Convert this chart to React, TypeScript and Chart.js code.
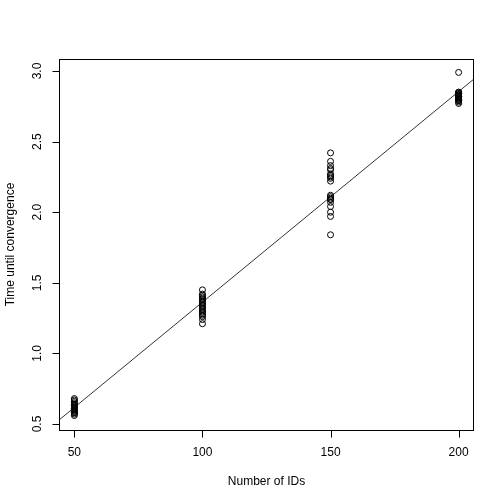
import { useEffect, useRef } from "react";
import { Chart, registerables } from "chart.js";

Chart.register(...registerables);

const groupIds = [50, 100, 150, 200];
const times50 = [0.56, 0.57, 0.58, 0.58, 0.59, 0.59, 0.60, 0.60, 0.61, 0.61, 0.62, 0.62, 0.63, 0.63, 0.64, 0.64, 0.65, 0.66, 0.67, 0.68];
const times100 = [1.21, 1.24, 1.26, 1.27, 1.28, 1.29, 1.30, 1.31, 1.32, 1.33, 1.34, 1.35, 1.36, 1.37, 1.38, 1.39, 1.40, 1.41, 1.42, 1.45];
const times150 = [2.42, 2.36, 2.33, 2.31, 2.30, 2.27, 2.26, 2.25, 2.24, 2.22, 2.12, 2.11, 2.10, 2.09, 2.09, 2.07, 2.04, 2.00, 1.97, 1.84];
const times200 = [2.99, 2.77, 2.78, 2.79, 2.79, 2.80, 2.80, 2.80, 2.81, 2.81, 2.82, 2.82, 2.82, 2.83, 2.83, 2.83, 2.84, 2.84, 2.85, 2.85];

const xTicks = [50, 100, 150, 200];
const yTicks = [0.5, 1.0, 1.5, 2.0, 2.5, 3.0];
const yTickLabels = ["0.5", "1.0", "1.5", "2.0", "2.5", "3.0"];
const xTitle = "Number of IDs";
const yTitle = "Time until convergence";

const X_MIN = 44;
const X_MAX = 206;
const Y_MIN = 0.4575;
const Y_MAX = 3.085;

const FONT = '12px "Liberation Sans", Arial, Helvetica, sans-serif';

export default function App() {
  const ref = useRef<HTMLCanvasElement | null>(null);

  useEffect(() => {
    const canvas = ref.current;
    if (!canvas) return;

    const allTimes = [times50, times100, times150, times200];
    const points: { x: number; y: number }[] = [];
    allTimes.forEach((arr, gi) => {
      arr.forEach((v) => points.push({ x: groupIds[gi], y: v }));
    });

    // least squares fit
    const n = points.length;
    const mx = points.reduce((s, p) => s + p.x, 0) / n;
    const my = points.reduce((s, p) => s + p.y, 0) / n;
    let sxy = 0;
    let sxx = 0;
    points.forEach((p) => {
      sxy += (p.x - mx) * (p.y - my);
      sxx += (p.x - mx) * (p.x - mx);
    });
    const slope = sxy / sxx;
    const intercept = my - slope * mx;
    const fitLine = [
      { x: X_MIN - 5, y: intercept + slope * (X_MIN - 5) },
      { x: X_MAX + 5, y: intercept + slope * (X_MAX + 5) },
    ];

    const axesPlugin = {
      id: "rAxes",
      afterDraw(chart: any) {
        const { ctx, chartArea } = chart;
        const xs = chart.scales.x;
        const ys = chart.scales.y;
        const { left, right, top, bottom } = chartArea;
        ctx.save();
        ctx.strokeStyle = "#000";
        ctx.lineWidth = 1;
        ctx.strokeRect(left + 0.5, top + 0.5, right - left - 1, bottom - top);

        // x axis
        const bx = Math.round(bottom) + 0.5;
        ctx.beginPath();
        ctx.moveTo(Math.round(xs.getPixelForValue(xTicks[0])) + 0.5, bx);
        ctx.lineTo(Math.round(xs.getPixelForValue(xTicks[xTicks.length - 1])) + 0.5, bx);
        xTicks.forEach((t) => {
          const px = Math.round(xs.getPixelForValue(t)) + 0.5;
          ctx.moveTo(px, bx);
          ctx.lineTo(px, bx + 7);
        });
        ctx.stroke();

        // y axis
        const ax = Math.round(left) + 0.5;
        ctx.beginPath();
        ctx.moveTo(ax, Math.round(ys.getPixelForValue(yTicks[0])) + 0.5);
        ctx.lineTo(ax, Math.round(ys.getPixelForValue(yTicks[yTicks.length - 1])) + 0.5);
        yTicks.forEach((t) => {
          const py = Math.round(ys.getPixelForValue(t)) + 0.5;
          ctx.moveTo(ax, py);
          ctx.lineTo(ax - 7, py);
        });
        ctx.stroke();

        ctx.fillStyle = "#000";
        ctx.font = FONT;
        ctx.textAlign = "center";
        ctx.textBaseline = "middle";
        xTicks.forEach((t) => {
          ctx.fillText(String(t), xs.getPixelForValue(t), 453);
        });
        yTicks.forEach((t, i) => {
          ctx.save();
          ctx.translate(38, ys.getPixelForValue(t));
          ctx.rotate(-Math.PI / 2);
          ctx.fillText(yTickLabels[i], 0, 0);
          ctx.restore();
        });
        ctx.fillText(xTitle, (left + right) / 2, 482);
        ctx.save();
        ctx.translate(11, (top + bottom) / 2);
        ctx.rotate(-Math.PI / 2);
        ctx.fillText(yTitle, 0, 0);
        ctx.restore();
        ctx.restore();
      },
    };

    const chart = new Chart(canvas, {
      type: "scatter",
      data: {
        datasets: [
          {
            type: "scatter",
            data: points,
            pointStyle: "circle",
            pointRadius: 3,
            pointHoverRadius: 3,
            borderColor: "#000",
            backgroundColor: "rgba(0,0,0,0)",
            borderWidth: 1,
          },
          {
            type: "line",
            data: fitLine,
            showLine: true,
            pointRadius: 0,
            borderColor: "#333",
            borderWidth: 1,
            fill: false,
          } as any,
        ],
      },
      options: {
        responsive: false,
        animation: false,
        events: [],
        layout: { padding: { top: 59, right: 30, left: 0, bottom: 0 } },
        plugins: {
          legend: { display: false },
          tooltip: { enabled: false },
        },
        scales: {
          x: {
            type: "linear",
            min: X_MIN,
            max: X_MAX,
            grid: { display: false },
            border: { display: false },
            ticks: { display: false },
            afterFit: (s: any) => {
              s.height = 74;
            },
          },
          y: {
            type: "linear",
            min: Y_MIN,
            max: Y_MAX,
            grid: { display: false },
            border: { display: false },
            ticks: { display: false },
            afterFit: (s: any) => {
              s.width = 59;
            },
          },
        },
      },
      plugins: [axesPlugin],
    });

    return () => chart.destroy();
  }, []);

  return (
    <div style={{ position: "absolute", left: 0, top: 0, width: 504, height: 504, background: "#fff" }}>
      <canvas ref={ref} width={504} height={504} />
    </div>
  );
}
